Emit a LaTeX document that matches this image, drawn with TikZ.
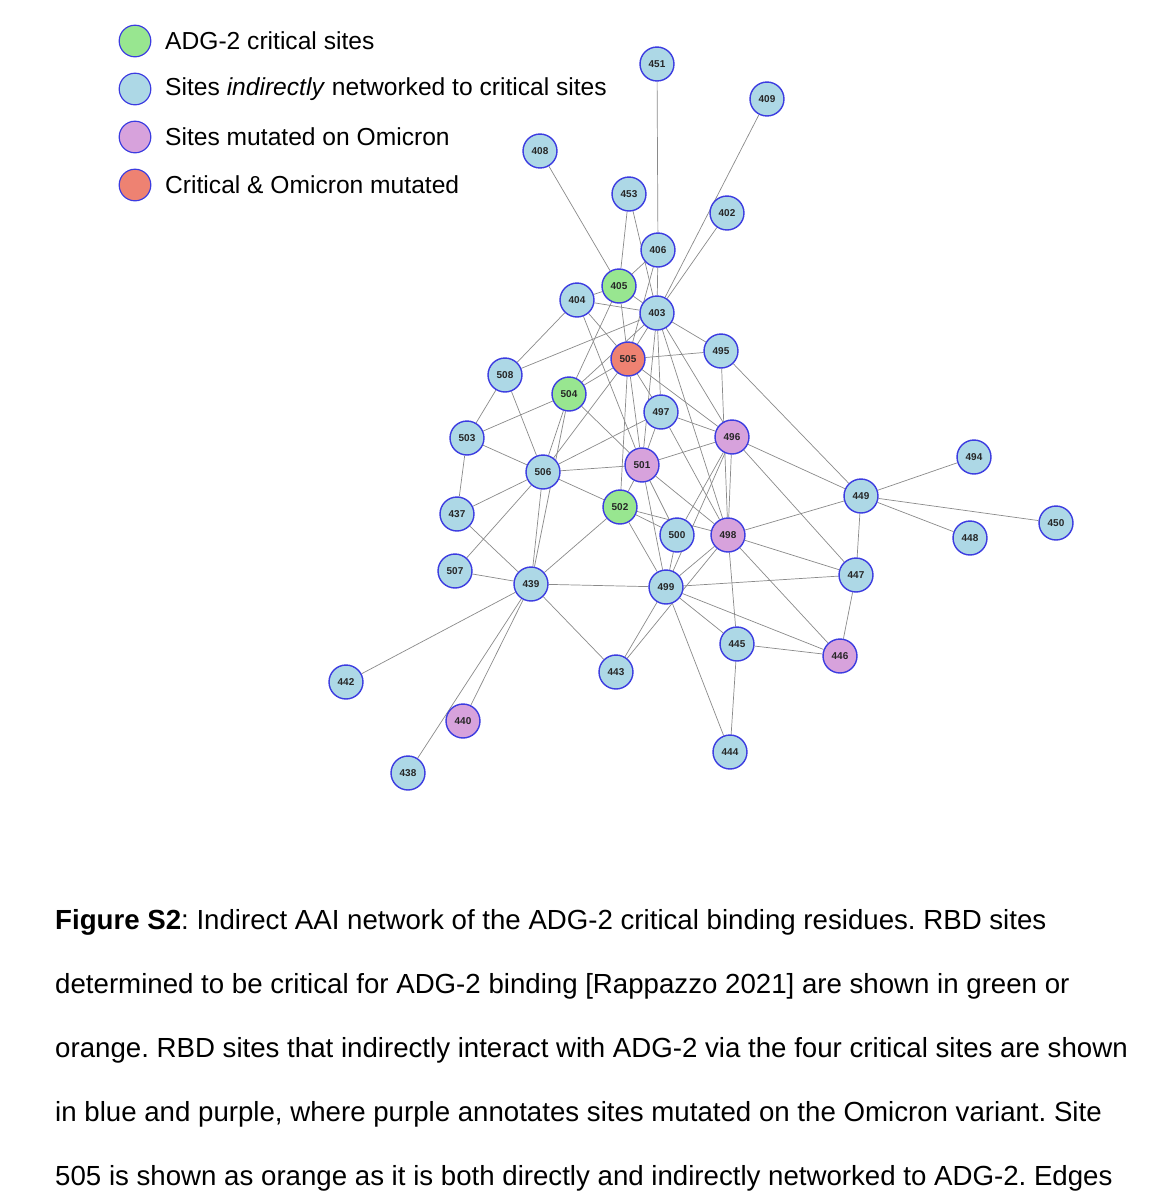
\documentclass[tikz,border=0pt]{standalone}
\usepackage{fontspec}
\setmainfont{Liberation Sans}
\usepackage{tikz}
\usetikzlibrary{positioning,backgrounds}
\usepackage{xcolor}
\definecolor{blu}{HTML}{ADD8E6}
\definecolor{grn}{HTML}{98E690}
\definecolor{pur}{HTML}{D7A2DC}
\definecolor{org}{HTML}{EE8272}
\definecolor{rim}{HTML}{3C3CE0}
\definecolor{edg}{HTML}{8A8A8A}
\frenchspacing

\tikzset{
  site/.style={circle,draw=rim,line width=1.2pt,minimum size=29pt,inner sep=0pt,
    font=\fontsize{8.5}{9}\selectfont\bfseries,text=black!85},
  edge/.style={edg,line width=0.6pt},
  keydot/.style={circle,draw=rim,line width=1pt,minimum size=27pt,inner sep=0pt},
  keytext/.style={anchor=west,font=\fontsize{21}{24}\selectfont,inner sep=0pt},
  capline/.style={anchor=base west,font=\fontsize{23.6}{27}\selectfont,inner sep=0pt}
}

\begin{document}
\begin{tikzpicture}[x=0.3mm,y=-0.3mm]
  \useasboundingbox (0,0) rectangle (1162,1200);

  % legend
  \foreach \k/\c/\y/\t in {1/grn/41/{ADG-2 critical sites},
      2/blu/89/{Sites \textit{indirectly} networked to critical sites},
      3/pur/137/{Sites mutated on Omicron},
      4/org/185/{Critical \& Omicron mutated}} {
    \node[keydot,fill=\c] (key\k) at (135,\y) {};
    \node[keytext] (keylab\k) at (165,\y) {\t};
  }

  % sites
  \foreach \n/\x/\y/\c in {451/657/64/blu, 409/767/99/blu, 408/540/151/blu,
      453/629/194/blu, 402/727/213/blu, 406/658/250/blu, 405/619/286/grn,
      404/577/300/blu, 403/657/313/blu, 495/721/351/blu, 505/628/359/org,
      508/505/375/blu, 504/569/394/grn, 497/661/412/blu, 496/732/437/pur,
      503/467/438/blu, 501/642/465/pur, 506/543/472/blu, 494/974/457/blu,
      449/861/496/blu, 502/620/507/grn, 437/457/514/blu, 450/1056/523/blu,
      500/677/535/blu, 498/728/535/pur, 448/970/538/blu, 507/455/571/blu,
      447/856/575/blu, 439/531/584/blu, 499/666/587/blu, 445/737/644/blu,
      446/840/656/pur, 443/616/672/blu, 442/346/682/blu, 440/463/721/pur,
      444/730/752/blu, 438/408/773/blu} {
    \node[site,fill=\c] (s\n) at (\x,\y) {\n};
  }

  % interactions
  \begin{scope}[on background layer]
    \foreach \a/\b in {451/406, 406/403, 409/403, 408/405, 453/405, 453/403,
        402/403, 406/405, 406/505, 405/403, 404/403, 404/405, 405/505,
        405/504, 404/508, 404/501, 404/505, 403/508, 403/495, 403/505,
        403/497, 403/501, 403/496, 403/498, 403/504, 505/495, 505/504,
        505/501, 505/502, 505/496, 505/506, 505/497, 508/503, 508/506,
        504/503, 504/506, 504/501, 504/439, 503/437, 503/506, 506/501,
        506/437, 506/502, 506/507, 506/439, 506/497, 437/439, 502/500,
        502/498, 502/499, 502/439, 502/501, 501/499, 501/500, 501/498,
        497/496, 497/498, 497/501, 501/496, 496/449, 496/447, 496/498,
        496/500, 496/499, 498/449, 498/447, 498/446, 498/445, 498/499,
        500/499, 499/447, 449/447, 447/446, 507/439, 439/499, 439/442,
        439/440, 439/438, 439/443, 443/499, 443/498, 499/444, 499/445,
        499/446, 445/444, 445/446, 495/449, 495/498, 449/494, 449/450,
        449/448} {
      \draw[edge] (s\a) -- (s\b);
    }
  \end{scope}

  % caption
  \node[capline] (cap1) at (55,929) {\textbf{Figure S2}: Indirect AAI network of the ADG-2 critical binding residues. RBD sites};
  \node[capline] (cap2) at (55,993) {determined to be critical for ADG-2 binding [Rappazzo 2021] are shown in green or};
  \node[capline] (cap3) at (55,1057) {orange. RBD sites that indirectly interact with ADG-2 via the four critical sites are shown};
  \node[capline] (cap4) at (55,1121) {in blue and purple, where purple annotates sites mutated on the Omicron variant. Site};
  \node[capline] (cap5) at (55,1185) {505 is shown as orange as it is both directly and indirectly networked to ADG-2. Edges};
\end{tikzpicture}
\end{document}
